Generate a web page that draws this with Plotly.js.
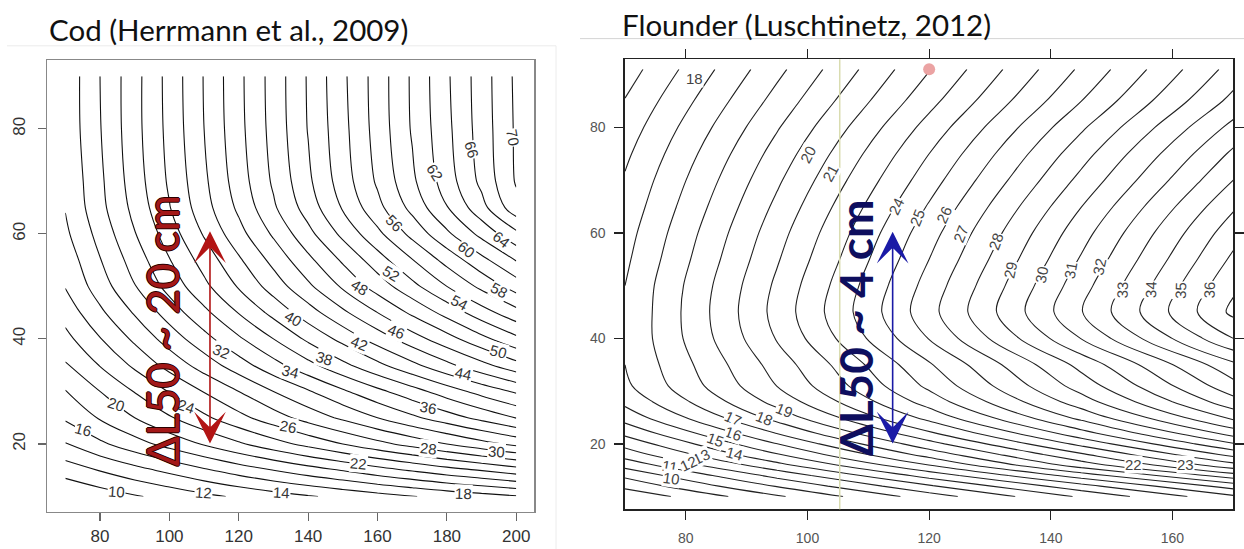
<!DOCTYPE html>
<html><head><meta charset="utf-8">
<script src="https://cdn.plot.ly/plotly-3.0.1.min.js"></script>
<style>html,body{margin:0;padding:0;background:#fff;}#chart{width:1244px;height:549px;}</style>
</head><body><div id="chart"></div>
<script>
// ---------- Cod (Herrmann et al., 2009): L50 surface ----------
const codX = [70, 80, 90, 100, 110, 120, 130, 140, 150, 160, 170, 180, 190, 200];
const codY = [10, 15, 20, 25, 30, 35, 40, 45, 50, 55, 60, 65, 70, 80, 90];
const codZ = [
  [8.0, 8.9, 9.8, 10.6, 11.5, 12.3, 13.1, 13.8, 14.5, 15.2, 15.9, 16.6, 17.2, 17.8],
  [10.9, 12.1, 13.3, 14.5, 15.7, 16.9, 18.0, 19.1, 20.1, 21.2, 22.2, 23.2, 24.1, 25.1],
  [13.9, 15.6, 17.2, 18.7, 20.2, 21.7, 23.2, 24.6, 26.0, 27.4, 28.7, 30.0, 31.3, 32.5],
  [16.3, 18.2, 20.0, 21.8, 23.6, 25.4, 27.1, 28.8, 30.4, 32.0, 33.6, 35.1, 36.6, 38.1],
  [17.9, 20.0, 22.1, 24.1, 26.1, 28.0, 30.0, 31.8, 33.7, 35.5, 37.2, 39.0, 40.7, 42.3],
  [19.8, 22.1, 24.4, 26.7, 28.9, 31.1, 33.3, 35.4, 37.5, 39.5, 41.5, 43.5, 45.4, 47.3],
  [21.4, 23.9, 26.4, 28.9, 31.3, 33.7, 36.0, 38.4, 40.6, 42.9, 45.1, 47.2, 49.4, 51.5],
  [22.8, 25.6, 28.2, 30.9, 33.5, 36.1, 38.6, 41.1, 43.6, 46.0, 48.4, 50.7, 53.1, 55.3],
  [24.1, 27.0, 29.9, 32.7, 35.5, 38.2, 40.9, 43.6, 46.3, 48.9, 51.4, 54.0, 56.5, 58.9],
  [24.8, 27.9, 30.9, 33.9, 36.8, 39.7, 42.6, 45.5, 48.3, 51.1, 53.9, 56.7, 59.4, 62.1],
  [25.6, 28.7, 31.9, 35.0, 38.2, 41.3, 44.3, 47.4, 50.5, 53.5, 56.6, 59.6, 62.6, 65.5],
  [26.1, 29.4, 32.6, 35.9, 39.2, 42.4, 45.7, 48.9, 52.2, 55.4, 58.6, 61.9, 65.3, 69.3],
  [26.3, 29.6, 33.0, 36.3, 39.6, 43.0, 46.3, 49.6, 53.0, 56.3, 59.6, 63.0, 66.5, 70.2],
  [26.6, 29.9, 33.3, 36.6, 40.0, 43.4, 46.7, 50.1, 53.4, 56.8, 60.2, 63.5, 66.9, 70.3],
  [26.6, 30.0, 33.3, 36.7, 40.1, 43.5, 46.8, 50.2, 53.6, 56.9, 60.3, 63.7, 67.0, 70.4]
];
const codTicksX = [80, 100, 120, 140, 160, 180, 200];
const codTicksY = [20, 40, 60, 80];
const codLabelValues = ['70','66','62','56','64','60','52','58','48','54','40','46','50','42','32','38','44','34','36','20','24','26','16','28','30','22','10','12','14','18'];

// ---------- Flounder (Luschtinetz, 2012): L50 surface ----------
const flX = [70, 95, 120, 145, 170];
const flY = [10, 12, 14, 16, 18, 20, 22, 25, 28, 31, 35, 40, 45, 50, 55, 60, 65, 70, 75, 80, 85, 91];
const flZ = [
  [7.2, 9.85, 12.5, 15.15, 17.8],
  [8.28, 11.07, 13.86, 16.65, 19.44],
  [9.22, 12.31, 15.39, 18.48, 21.56],
  [10.37, 13.7, 17.02, 20.5, 23.67],
  [11.46, 14.93, 18.4, 21.86, 25.33],
  [12.34, 15.99, 19.63, 23.28, 26.92],
  [13.23, 17.02, 20.82, 24.61, 28.4],
  [14.42, 18.38, 22.34, 26.3, 30.26],
  [15.26, 19.36, 23.45, 27.55, 31.64],
  [15.8, 20.02, 24.23, 28.45, 32.66],
  [16.0, 20.44, 24.88, 29.32, 33.76],
  [16.1, 21.08, 26.05, 31.03, 36.0],
  [16.05, 21.35, 26.65, 31.95, 37.25],
  [16.0, 21.2, 26.4, 31.6, 36.8],
  [15.8, 20.9, 26.0, 31.1, 36.2],
  [15.6, 20.6, 25.6, 30.6, 35.6],
  [15.35, 20.23, 25.1, 29.98, 34.85],
  [15.1, 19.83, 24.55, 29.28, 34.0],
  [14.8, 19.4, 24.0, 28.6, 33.2],
  [14.45, 18.91, 23.38, 27.84, 32.3],
  [14.05, 18.36, 22.68, 26.99, 31.3],
  [13.5, 17.73, 21.95, 26.18, 30.4]
];
const flTicksX = [80, 100, 120, 140, 160];
const flTicksY = [20, 40, 60, 80];
const flLabelValues = ['18','20','21','24','25','26','27','28','29','30','31','32','33','34','35','36','19','18','17','16','15','14','13','12','11','10','22','23'];
const flDotX = [120];
const flDotY = [91];
const flRefLineX = 105.3;

// ---------- label placement (x, y, angle) ----------
const codLabelPos = [
  [199.1,78.4,80],[187.1,76,75],[176.5,71.6,58],[165,62,45],[195.8,58.9,38],[185.7,57,38],
  [164,52.5,32],[195.3,49.3,28],[154.9,49.7,32],[183.6,46.9,28],[135.7,43.9,30],[165.5,41.4,22],
  [194.8,37.6,15],[154.9,39.2,22],[115.1,37.6,22],[144.8,36.3,18],[184.7,33.5,12],[134.8,33.8,15],
  [174.6,27,10],[84.8,27.6,18],[105,27.2,18],[134.3,23.4,10],[75.2,22.8,15],[174.6,19.2,6],
  [194.3,18.5,4],[154.4,16.3,5],[84.8,10.9,4],[109.8,10.7,4],[132.4,10.7,3],[184.7,10.6,2]
];
const flLabelPos = [
  [81.5,89.3,0],[100.1,74.8,-62],[103.7,71.3,-62],[114.6,65,-65],[118,63,-68],[122.5,63.4,-65],
  [125.2,59.9,-68],[131,58.3,-70],[133.4,53,-78],[138.4,52,-80],[143.3,53,-80],[148,53.6,-78],
  [151.8,49.2,-88],[156.5,49.2,-88],[161.4,49.2,-88],[166.1,49.2,-88],
  [96.3,26.4,22],[93,24.9,22],[87.8,24.9,25],[87.8,22,20],[84.8,20.8,20],[88,18.1,15],
  [82.6,17.6,-25],[80.4,16.3,-25],[77.4,15.7,10],[77.7,13.5,8],[153.6,16,0],[162.1,16,0]
];

const W = 1244, H = 549;
const px = v => v / W, py = v => 1 - v / H;

const traces = [
  {type:'contour', x:codX, y:codY, z:codZ, xaxis:'x', yaxis:'y',
   contours:{start:10, end:70, size:2, coloring:'lines', showlabels:false},
   colorscale:[[0,'#111'],[1,'#111']], showscale:false, line:{width:1.1, smoothing:1}, hoverinfo:'skip'},
  {type:'contour', x:flX, y:flY, z:flZ, xaxis:'x2', yaxis:'y2',
   contours:{start:8, end:37, size:1, coloring:'lines', showlabels:false},
   colorscale:[[0,'#222'],[1,'#222']], showscale:false, line:{width:1.1, smoothing:1}, hoverinfo:'skip'},
  {type:'scatter', mode:'markers', x:flDotX, y:flDotY, xaxis:'x2', yaxis:'y2',
   marker:{size:12, color:'#eba3a3'}, cliponaxis:false, hoverinfo:'skip', showlegend:false}
];

const annotations = [];
codLabelValues.forEach((t, i) => {
  const p = codLabelPos[i];
  annotations.push({xref:'x', yref:'y', x:p[0], y:p[1], text:t, textangle:p[2], showarrow:false,
    font:{family:'Liberation Sans, Arial', size:15, color:'#333'}, bgcolor:'#fff', borderpad:0});
});
flLabelValues.forEach((t, i) => {
  const p = flLabelPos[i];
  annotations.push({xref:'x2', yref:'y2', x:p[0], y:p[1], text:t, textangle:p[2], showarrow:false,
    font:{family:'Liberation Sans, Arial', size:15, color:'#444'}, bgcolor:'#fff', borderpad:0});
});
// titles
annotations.push({xref:'paper', yref:'paper', x:px(47), y:py(29), xanchor:'left', yanchor:'middle',
  text:'Cod (Herrmann et al., 2009)', showarrow:false, font:{family:'Lato, Open Sans', size:29.5, color:'#111'}});
annotations.push({xref:'paper', yref:'paper', x:px(620), y:py(25), xanchor:'left', yanchor:'middle',
  text:'Flounder (Luschtinetz, 2012)', showarrow:false, font:{family:'Lato, Open Sans', size:29.5, color:'#111'}});
// arrows
annotations.push({xref:'x', yref:'y', axref:'x', ayref:'y', x:111.7, y:60.5, ax:111.7, ay:19.8, text:'',
  showarrow:true, arrowside:'end+start', arrowhead:3, startarrowhead:3, arrowsize:3.3, startarrowsize:3.3,
  arrowwidth:1.6, arrowcolor:'#b21414', standoff:0, startstandoff:0});
annotations.push({xref:'x2', yref:'y2', axref:'x2', ayref:'y2', x:114, y:60.2, ax:114, ay:19.8, text:'',
  showarrow:true, arrowside:'end+start', arrowhead:3, startarrowhead:3, arrowsize:3.3, startarrowsize:3.3,
  arrowwidth:1.6, arrowcolor:'#1a1aa6', standoff:0, startstandoff:0});
// delta texts
annotations.push({xref:'x', yref:'y', x:97.9, y:41.5, text:'ΔL50 ~ 20 cm', textangle:-90, showarrow:false,
  font:{family:'Lato, Open Sans', size:44, color:'#a31818',
        shadow:'1px 0 0 #2a0000, -1px 0 0 #2a0000, 0 1px 0 #2a0000, 0 -1px 0 #2a0000'}});
annotations.push({xref:'x2', yref:'y2', x:107.9, y:42, text:'<b>ΔL50 ~ 4 cm</b>', textangle:-90, showarrow:false,
  font:{family:'Lato, Open Sans', size:46, color:'#0e0e5e'}});

const shapes = [
  {type:'line', xref:'x2', yref:'y2 domain', x0:flRefLineX, x1:flRefLineX, y0:0, y1:1,
   line:{color:'#d9dcb0', width:1.5}, layer:'above'},
  {type:'line', xref:'paper', yref:'paper', x0:px(580), x1:1, y0:py(38.6), y1:py(38.6), line:{color:'#d4d4d4', width:1}},
  {type:'line', xref:'paper', yref:'paper', x0:px(7), x1:px(556), y0:py(45.8), y1:py(45.8), line:{color:'#ececec', width:1}},
  {type:'line', xref:'paper', yref:'paper', x0:px(556), x1:px(556), y0:0, y1:py(45.8), line:{color:'#ececec', width:1}}
];

const tickFontL = {family:'Liberation Sans, Arial', size:17, color:'#333'};
const tickFontR = {family:'Liberation Sans, Arial', size:14, color:'#555'};

const layout = {
  width:W, height:H, margin:{l:0, r:0, t:0, b:0}, paper_bgcolor:'#fff', plot_bgcolor:'#fff',
  showlegend:false,
  xaxis:{domain:[px(47.3), px(534.3)], range:[64.8, 205.2], tickvals:codTicksX, ticks:'outside', ticklen:8,
    tickcolor:'#666', tickwidth:1.2, showline:true, mirror:true, linecolor:'#888', linewidth:1.4,
    showgrid:false, zeroline:false, tickfont:tickFontL, anchor:'y', ticklabelstandoff:0},
  yaxis:{domain:[py(511.7), py(60)], range:[7.1, 93.1], tickvals:codTicksY, ticks:'outside', ticklen:8,
    tickcolor:'#666', tickwidth:1.2, showline:true, mirror:true, linecolor:'#888', linewidth:1.4,
    showgrid:false, zeroline:false, tickfont:tickFontL, tickangle:-90, anchor:'x', ticklabelstandoff:6},
  xaxis2:{domain:[px(625), px(1233.3)], range:[70, 170], tickvals:flTicksX, ticks:'outside', ticklen:9,
    tickcolor:'#222', tickwidth:1.3, showline:true, mirror:'ticks', linecolor:'#222', linewidth:1.6,
    showgrid:false, zeroline:false, tickfont:tickFontR, anchor:'y2', ticklabelstandoff:6},
  yaxis2:{domain:[py(509.3), py(59.3)], range:[7.6, 92.9], tickvals:flTicksY, ticks:'outside', ticklen:9,
    tickcolor:'#222', tickwidth:1.3, showline:true, mirror:'ticks', linecolor:'#222', linewidth:1.6,
    showgrid:false, zeroline:false, tickfont:tickFontR, anchor:'x2', ticklabelstandoff:6},
  annotations:annotations, shapes:shapes
};

Plotly.newPlot('chart', traces, layout, {staticPlot:true, displayModeBar:false});
</script></body></html>
